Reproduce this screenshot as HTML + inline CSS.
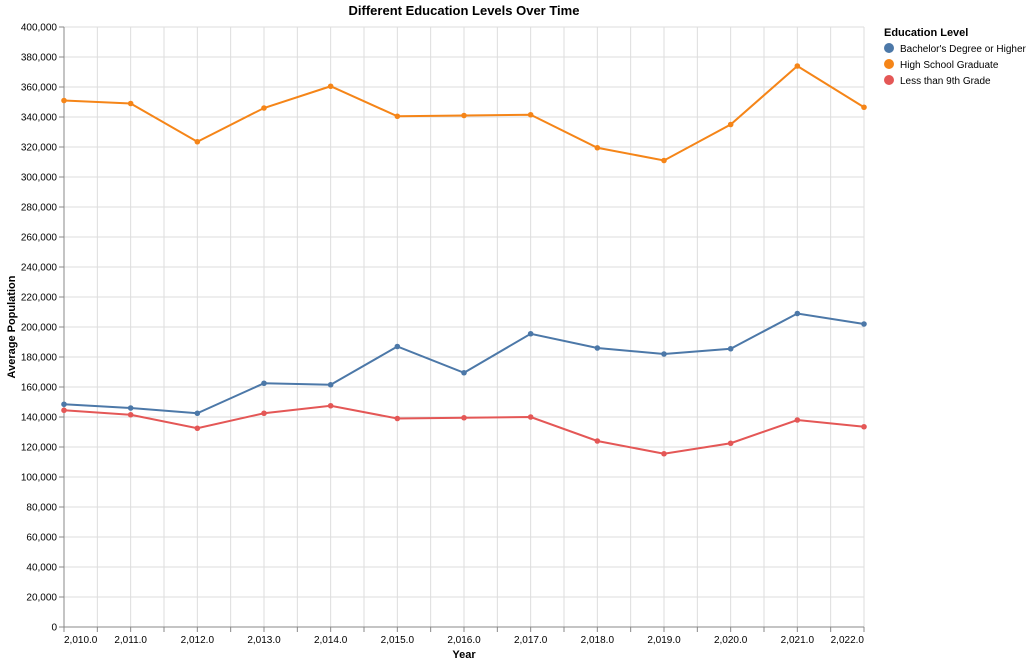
<!DOCTYPE html>
<html><head><meta charset="utf-8"><style>
body{margin:0;background:#fff;font-family:"Liberation Sans",Arial,sans-serif}
</style></head><body>
<svg id="chart" width="1031" height="664" xmlns="http://www.w3.org/2000/svg" style="font-family:'Liberation Sans',Arial,sans-serif">
<text x="464" y="15" text-anchor="middle" font-size="13" font-weight="bold" fill="#000">Different Education Levels Over Time</text>
<g id="grid"></g><g id="axes"></g><g id="marks"></g>
<text x="464" y="658" text-anchor="middle" font-size="11" font-weight="bold">Year</text>
<text transform="translate(15,327) rotate(-90)" text-anchor="middle" font-size="11" font-weight="bold">Average Population</text>
<g>
<text x="884" y="36" font-size="11" font-weight="bold">Education Level</text>
<g><circle cx="889" cy="48" r="5" fill="#4c78a8"/><text x="900" y="52" font-size="10">Bachelor's Degree or Higher</text></g>
<g><circle cx="889" cy="64" r="5" fill="#f58518"/><text x="900" y="68" font-size="10">High School Graduate</text></g>
<g><circle cx="889" cy="80" r="5" fill="#e45756"/><text x="900" y="84" font-size="10">Less than 9th Grade</text></g>
</g>
</svg>
<script>
const years=[2010,2011,2012,2013,2014,2015,2016,2017,2018,2019,2020,2021,2022];
const bachelor=[148500,146000,142500,162500,161500,187000,169500,195500,186000,182000,185500,209000,202000];
const highSchool=[351000,349000,323500,346000,360500,340500,341000,341500,319500,311000,335000,374000,346500];
const lessThan9th=[144500,141500,132500,142500,147500,139000,139500,140000,124000,115500,122500,138000,133500];
const yTicks=[0,20000,40000,60000,80000,100000,120000,140000,160000,180000,200000,220000,240000,260000,280000,300000,320000,340000,360000,380000,400000];
const NS="http://www.w3.org/2000/svg";
const X0=64,X1=864,Y0=627,Y1=27;
const xs=v=>X0+(v-2010)/(2022-2010)*(X1-X0);
const ys=v=>Y0-v/400000*(Y0-Y1);
function mk(t,a,p){const e=document.createElementNS(NS,t);for(const k in a)e.setAttribute(k,a[k]);p.appendChild(e);return e;}
const grid=document.getElementById('grid'),axes=document.getElementById('axes'),marks=document.getElementById('marks');
for(let v=2010;v<=2022;v+=0.5){
 const l=mk('line',{x1:xs(v),x2:xs(v),y1:Y1,y2:Y0,stroke:'#ddd'},grid);
 
 
 mk('line',{x1:xs(v),x2:xs(v),y1:Y0,y2:Y0+5,stroke:'#888'},axes);
 if(Number.isInteger(v)){
  const anchor=v===2010?'start':(v===2022?'end':'middle');
  const t=mk('text',{x:xs(v),y:Y0+16,'text-anchor':anchor,'font-size':10,fill:'#000'},axes);
  t.textContent=v.toLocaleString('en-US')+'.0';
  
  
 }
}
yTicks.forEach(v=>{
 const l=mk('line',{x1:X0,x2:X1,y1:ys(v),y2:ys(v),stroke:'#ddd'},grid);
 
 
 mk('line',{x1:X0-5,x2:X0,y1:ys(v),y2:ys(v),stroke:'#888'},axes);
 const t=mk('text',{x:X0-7,y:ys(v)+3.5,'text-anchor':'end','font-size':10,fill:'#000'},axes);
 t.textContent=v.toLocaleString('en-US');
 
 
});
mk('line',{x1:X0,x2:X0,y1:Y1,y2:Y0,stroke:'#888'},axes);
mk('line',{x1:X0,x2:X1,y1:Y0,y2:Y0,stroke:'#888'},axes);
[[bachelor,'#4c78a8','bachelor'],[highSchool,'#f58518','high-school'],[lessThan9th,'#e45756','less-than-9th']].forEach(([d,c,n])=>{
 const p=mk('path',{d:d.map((v,i)=>(i?'L':'M')+xs(years[i])+','+ys(v)).join(''),fill:'none',stroke:c,'stroke-width':2},marks);
 
 
 d.forEach((v,i)=>{
  const ci=mk('circle',{cx:xs(years[i]),cy:ys(v),r:2.8,fill:c},marks);
  
  
 });
});
</script>
</body></html>
